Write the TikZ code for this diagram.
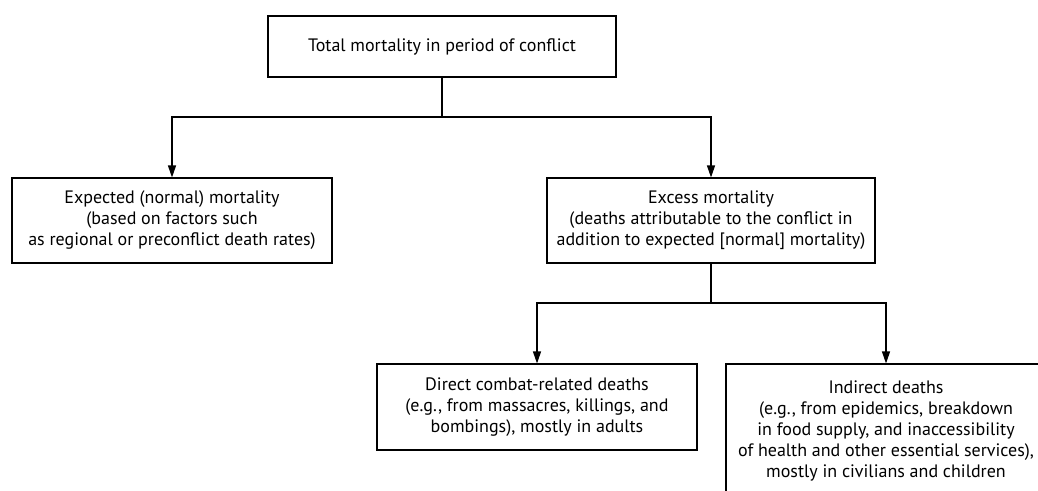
\documentclass[tikz,border=0pt]{standalone}
\usepackage{fontspec}
\setmainfont{PT Sans}
\usetikzlibrary{arrows.meta}

\begin{document}
\begin{tikzpicture}[x=1pt,y=-1pt,
  box/.style={draw,line width=1.1pt,align=center,inner sep=0pt,
    font=\fontsize{18}{21}\selectfont},
  link/.style={line width=1.1pt,-{Triangle[length=12pt,width=8pt]}}]
\useasboundingbox (0,0) rectangle (1038,490);
\clip (0,0) rectangle (1038,490);

\node[box,minimum width=348pt,minimum height=61pt] (total) at (442,46.5)
  {Total mortality in period of conflict};
\node[box,minimum width=320pt,minimum height=85pt] (expected) at (172,220.5)
  {Expected (normal) mortality\\(based on factors such\\as regional or preconflict death rates)};
\node[box,minimum width=328pt,minimum height=85pt] (excess) at (711,220.5)
  {Excess mortality\\(deaths attributable to the conflict in\\addition to expected [normal] mortality)};
\node[box,minimum width=320pt,minimum height=86pt] (direct) at (537,407)
  {Direct combat-related deaths\\(e.g., from massacres, killings, and\\bombings), mostly in adults};
\node[box,minimum width=320pt,minimum height=134pt] (indirect) at (886,431)
  {Indirect deaths\\(e.g., from epidemics, breakdown\\in food supply, and inaccessibility\\of health and other essential services),\\mostly in civilians and children};

\draw[link] (total.south) -- (total.south |- 0,117) -| (expected.north);
\draw[link] (total.south) -- (total.south |- 0,117) -| (excess.north);
\draw[link] (excess.south) -- (excess.south |- 0,303) -| (direct.north);
\draw[link] (excess.south) -- (excess.south |- 0,303) -| (indirect.north);
\end{tikzpicture}
\end{document}
